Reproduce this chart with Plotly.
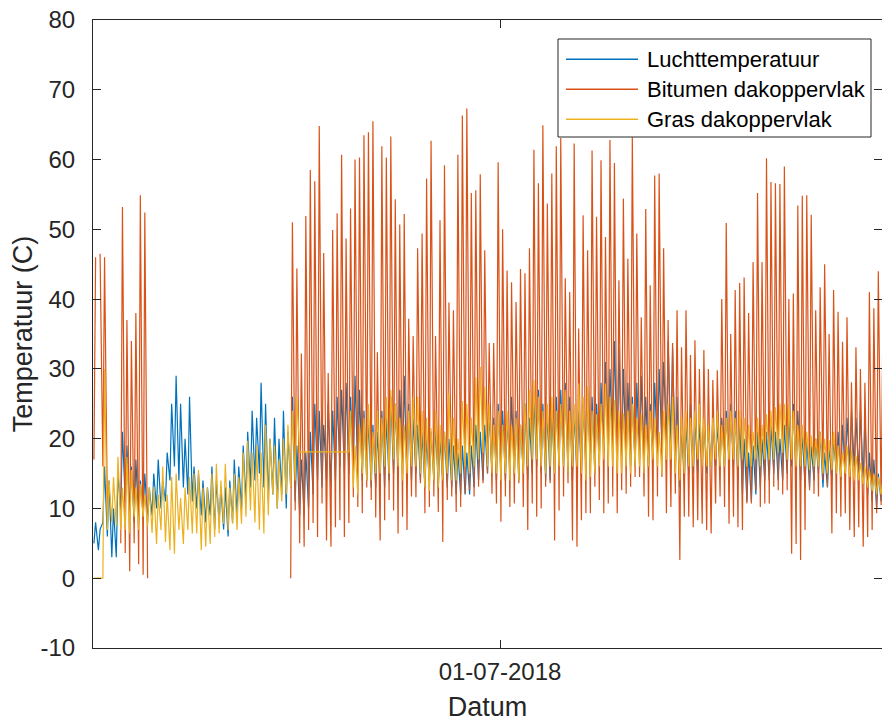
import plotly.graph_objects as go
import pandas as pd

# ---------------- data (daily min / max, days from 2018-04-01) ----------------
START = "2018-04-01"
N_DAYS = 177
TICK_DATES = ["2018-07-01"]
TICK_LABELS = ["01-07-2018"]
Y_TICKS = [-10, 0, 10, 20, 30, 40, 50, 60, 70, 80]
Y_TICK_LABELS = ["-10", "0", "10", "20", "30", "40", "50", "60", "70", "80"]
SERIES_NAMES = ["Luchttemperatuur", "Bitumen dakoppervlak", "Gras dakoppervlak"]

air_max = [
    8, 7, 16, 14, 10, 15, 21, 19, 16, 17,
    14, 15, 13, 15, 17, 14, 18, 25, 29, 25,
    20, 26, 16, 15, 14, 13, 16, 14, 13, 13,
    14, 17, 16, 19, 21, 24, 23, 28, 25, 20,
    23, 20, 24, 21, 26, 19, 17, 18, 21, 25,
    24, 22, 25, 24, 26, 27, 28, 26, 29, 27,
    24, 23, 22, 21, 24, 23, 26, 25, 27, 29,
    25, 23, 22, 21, 20, 21, 22, 20, 21, 20,
    19, 18, 19, 18, 19, 22, 21, 22, 24, 23,
    25, 24, 23, 26, 24, 22, 25, 23, 26, 27,
    25, 24, 24, 26, 27, 28, 26, 24, 24, 25,
    27, 26, 25, 28, 31, 30, 34, 33, 30, 28,
    26, 28, 29, 26, 25, 28, 30, 31, 34, 33,
    26, 22, 22, 25, 23, 22, 23, 22, 23, 22,
    23, 24, 25, 24, 23, 20, 18, 19, 21, 20,
    21, 22, 21, 20, 22, 23, 25, 24, 21, 20,
    19, 20, 21, 18, 19, 20, 21, 22, 23, 24,
    23, 24, 23, 18, 17, 15, 16,
]
air_min = [
    5, 4, 8, 6, 3, 3, 10, 11, 9, 8,
    8, 9, 8, 9, 10, 10, 11, 14, 16, 14,
    13, 12, 11, 10, 9, 8, 9, 7, 8, 7,
    6, 8, 9, 10, 11, 13, 14, 15, 13, 11,
    12, 10, 12, 10, 13, 11, 9, 9, 10, 12,
    14, 13, 14, 13, 14, 16, 15, 15, 16, 15,
    14, 14, 13, 13, 14, 13, 14, 15, 15, 15,
    14, 14, 15, 14, 13, 14, 14, 13, 14, 13,
    13, 12, 12, 12, 12, 13, 14, 14, 15, 15,
    14, 15, 14, 15, 15, 14, 15, 14, 15, 16,
    15, 14, 14, 15, 16, 16, 15, 14, 15, 15,
    16, 16, 15, 17, 18, 18, 19, 18, 17, 17,
    16, 16, 17, 16, 16, 17, 18, 19, 20, 19,
    16, 13, 14, 15, 15, 15, 16, 15, 16, 16,
    16, 16, 17, 16, 14, 12, 11, 11, 12, 13,
    14, 14, 15, 14, 14, 15, 16, 15, 14, 13,
    13, 14, 15, 13, 13, 14, 15, 14, 15, 16,
    16, 15, 14, 12, 11, 10, 11,
]

# bitumen: None = no data (line broken)
bit_max = [
    46, 46.5, 46, None, None, None, 53.2, 37, 34, 38,
    54.9, 52.4, None, None, None, None, None, None, None, None,
    None, None, None, None, None, None, None, None, None, None,
    None, None, None, None, None, None, None, None, None, None,
    None, None, None, None, 51, 44.4, 32.2, 51.9, 58.5, 56.9,
    64.8, 46.6, 29.4, 49.9, 52.3, 60.7, 48.7, 53.0, 60.0, 60.3,
    63.5, 63.9, 65.5, 32.4, 61.9, 60.3, 63.3, 54.3, 50.7, 52.2,
    37.2, 34.7, 47.3, 49.4, 57.3, 62.7, 34.7, 51.3, 59.2, 39.5,
    38.4, 60.7, 66.3, 67.3, 55.2, 55.6, 57.9, 47.0, 33.7, 33.7,
    59.6, 50.0, 44.1, 42.4, 39.6, 44.3, 43.7, 47.3, 61.4, 56.6,
    64.9, 53.7, 58.0, 61.9, 63.1, 43.0, 41.0, 62.3, 35.8, 52.0,
    47.0, 61.3, 51.8, 59.9, 48.9, 62.8, 59.5, 42.7, 54.4, 45.8,
    63.2, 49.4, 37.4, 52.9, 42.0, 57.7, 58.0, 47.3, 37.0, 33.7,
    38.4, 33.1, 38.4, 32.0, 34.1, 30.0, 32.7, 30.0, 28.4, 29.8,
    40.0, 50.9, 35.0, 41.3, 42.3, 43.1, 38.0, 45.3, 55.2, 45.3,
    60.2, 56.8, 56.6, 56.5, 59.0, 40.0, 40.8, 53.4, 54.8, 54.9,
    52.1, 38.4, 41.7, 45.0, 35.0, 41.3, 38.2, 33.9, 37.4, 28.1,
    33.1, 30.0, 28.0, 41.0, 38.7, 44.0, 35.1,
]
bit_min = [
    17, None, 16, 10, None, None, 5, 3.6, 1, 5,
    2, 0.5, 0, None, None, None, None, None, None, None,
    None, None, None, None, None, None, None, None, None, None,
    None, None, None, None, None, None, None, None, None, None,
    None, None, None, None, 0, 9.7, 5.0, 4.5, 6.9, 7.9,
    5.9, 10.7, 5.4, 4.5, 7.3, 8.3, 5.9, 7.9, 11.6, 10.2,
    9.3, 13.0, 11.2, 8.7, 5.4, 8.3, 11.2, 9.7, 6.4, 8.8,
    6.9, 11.7, 11.6, 13.6, 9.3, 10.2, 11.7, 9.5, 5.2, 11.2,
    11.7, 9.5, 10.2, 12.1, 12.6, 11.7, 13.1, 13.6, 15.0, 12.1,
    10.7, 8.1, 11.7, 10.2, 10.7, 13.6, 10.2, 6.9, 10.7, 8.8,
    10.0, 13.1, 13.6, 5.4, 9.7, 11.7, 13.6, 5.4, 4.5, 8.3,
    9.3, 9.3, 13.1, 11.2, 9.3, 10.7, 11.7, 9.3, 12.6, 12.1,
    13.1, 14.5, 14.5, 11.7, 8.8, 8.3, 11.7, 14.5, 9.3, 10.2,
    12.1, 2.6, 8.8, 8.8, 7.3, 8.3, 7.8, 6.9, 6.4, 10.7,
    11.7, 10.2, 7.8, 8.8, 7.3, 6.9, 10.7, 10.7, 12.6, 10.2,
    10.7, 10.7, 13.1, 12.6, 12.0, 12.6, 3.5, 4.9, 2.6, 6.9,
    12.6, 12.1, 11.7, 14.1, 13.1, 6.4, 9.3, 8.8, 9.3, 6.9,
    5.9, 7.3, 4.5, 5.9, 6.9, 9.3, 10.5,
]

# grass: None = missing, bridged by a straight line (as in the original)
gras_max = [
    0, 0, 30, 14, 14.5, 17.4, 13, 17.4, 15.5, 13,
    13.5, 12, 13, 13.1, 12, 16, 12, 14.5, 15, 11.5,
    13, 14.5, 15, 15.5, 13, 13, 15, 16.4, 14, 16.4,
    13, 15, 14.5, 18, 19.7, 18, 19, 18, 22, 20,
    19, 17, 20, 22, 24, 26, None, None, None, None,
    None, None, None, None, None, None, None, 24, 19, 22,
    23, 25, 21, 24, 23, 26, 27, 25, 23, 22,
    24, 26, 26, 24, 23, 21.5, 24, 22, 21, 26.5,
    23, 20, 25.4, 25, 23, 28.8, 30.3, 27.5, 25, 22,
    24, 22, 24, 22, 23, 22, 25, 27, 28.4, 26,
    24, 25, 26, 24, 25, 27, 24, 25, 27.9, 26,
    27.5, 24, 23.5, 25, 27.9, 26, 25.5, 24, 23.6, 24,
    25, 23, 23.5, 22, 24, 23, 21, 24, 25, 26,
    22, 23, 24, 23, 24, 25, 23, 22, 23, 24,
    22, 23, 24, 23, 24, 23, 22, 21, 23, 22,
    23.5, 24, 24.5, 25, 25, 25, 24, 22, 22, 21,
    20.5, 20, 21, 20, 19.8, 21, 19, 18, 19, 18.3,
    17.5, 16.5, 16, 15.5, 15, 14.5, 14,
]
gras_min = [
    0, 0, 0, 6.9, 8, 7.5, 6.9, 6.9, 6.4, 8.8,
    6.9, 8.8, 7.5, 6.5, 4.9, 6.9, 5.2, 4.0, 3.5, 6.9,
    4.9, 6.9, 6.4, 6.4, 4.0, 4.5, 4.9, 5.9, 6.4, 7.8,
    6.9, 7.8, 6.9, 7.8, 8.8, 9.7, 8, 6.9, 6.4, 9,
    12, 10, 11, 12, 13, 14, 18.1, None, None, None,
    None, None, None, None, None, None, None, 18.1, 13, 12,
    15, 14, 14, 15, 15, 16, 15, 17, 16, 14,
    15, 16, 16, 15, 13, 12.5, 14, 13, 14, 15,
    14, 14, 15, 16, 15, 16, 17, 18, 16, 15,
    15, 14, 15, 14, 15, 14, 15, 16, 17, 17,
    16, 15, 16, 15, 16, 16, 15, 16, 16, 15,
    14, 14.5, 15, 16, 17, 16, 16, 15, 15, 16,
    15, 16, 16, 15, 16, 17, 16, 15, 17, 17,
    15, 14, 15, 16, 16, 17, 16, 16, 16, 17,
    16, 16, 17, 17, 16, 17, 16, 16, 17, 16,
    17, 17, 17, 18, 18, 17, 17, 16, 16, 16,
    15.5, 16, 16, 15, 15, 15.5, 15, 14.5, 15, 14.5,
    14, 14, 13.5, 13, 12.5, 12, 12,
]

COLORS = ["#0072BD", "#D95319", "#EDB120"]


def build(lows, highs, break_gaps):
    start = pd.Timestamp(START)
    xs, ys = [], []
    for d, (lo, hi) in enumerate(zip(lows, highs)):
        for val, frac in ((lo, 5 / 24), (hi, 14 / 24)):
            t = start + pd.Timedelta(days=d + frac)
            if val is None:
                if break_gaps and ys and ys[-1] is not None:
                    xs.append(t)
                    ys.append(None)
            else:
                xs.append(t)
                ys.append(val)
    return xs, ys


fig = go.Figure()
for (lo, hi, brk), name, col in zip(
    [(air_min, air_max, False), (bit_min, bit_max, True), (gras_min, gras_max, False)],
    SERIES_NAMES, COLORS,
):
    xs, ys = build(lo, hi, brk)
    fig.add_trace(go.Scatter(x=xs, y=ys, mode="lines", name=name,
                             line=dict(color=col, width=1.2), connectgaps=False,
                             showlegend=False))

# ---------------- layout ----------------
W, H = 882, 722
L, R, T, B = 93, 0, 20, 74
pw, ph = W - L - R, H - T - B
AX = "#262626"


def px(x):
    return (x - L) / pw


def py(y):
    return (H - B - y) / ph


x_end = pd.Timestamp(START) + pd.Timedelta(days=176.41)

fig.update_layout(
    width=W, height=H,
    margin=dict(l=L, r=R, t=T, b=B),
    paper_bgcolor="white", plot_bgcolor="white",
    font=dict(family="Liberation Sans, Arial, Helvetica, sans-serif", color=AX, size=24),
    xaxis=dict(
        type="date", range=[pd.Timestamp(START), x_end],
        tickmode="array", tickvals=TICK_DATES, ticktext=TICK_LABELS,
        ticks="inside", ticklen=8, tickwidth=1, tickcolor=AX,
        showline=True, linecolor=AX, linewidth=1, mirror="ticks",
        showgrid=False, zeroline=False,
        tickfont=dict(size=24, color=AX), ticklabelstandoff=2,
        title=dict(text="Datum", font=dict(size=27, color=AX), standoff=14),
    ),
    yaxis=dict(
        range=[-10, 80], tickmode="array", tickvals=Y_TICKS, ticktext=Y_TICK_LABELS,
        ticks="inside", ticklen=8, tickwidth=1, tickcolor=AX,
        showline=True, linecolor=AX, linewidth=1, mirror="ticks",
        showgrid=False, zeroline=False,
        tickfont=dict(size=24, color=AX), ticklabelstandoff=12,
        title=dict(text="Temperatuur (C)", font=dict(size=27, color=AX), standoff=0),
    ),
)

# legend drawn as a box (MATLAB style with long line samples)
box = dict(x0=558, x1=871, y0=39, y1=137)
shapes = [dict(type="rect", xref="paper", yref="paper",
               x0=px(box["x0"]), x1=px(box["x1"]), y0=py(box["y1"]), y1=py(box["y0"]),
               line=dict(color=AX, width=1), fillcolor="white", layer="above")]
annotations = []
for i, (name, col) in enumerate(zip(SERIES_NAMES, COLORS)):
    yy = 59.3 + 30 * i
    shapes.append(dict(type="line", xref="paper", yref="paper",
                       x0=px(566), x1=px(638), y0=py(yy), y1=py(yy),
                       line=dict(color=col, width=1.5), layer="above"))
    annotations.append(dict(xref="paper", yref="paper", x=px(645), y=py(yy),
                            text=name, showarrow=False, xanchor="left", yanchor="middle",
                            font=dict(size=22, color="#000000")))
fig.update_layout(shapes=shapes, annotations=annotations)

fig.write_html("out.html")
